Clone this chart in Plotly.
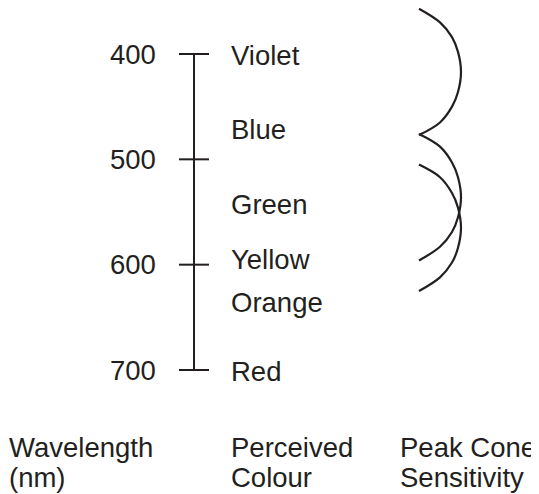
import plotly.graph_objects as go

# ---- data ----
wavelength_ticks = [400, 500, 600, 700]
tick_labels = ["400", "500", "600", "700"]

colour_names = ["Violet", "Blue", "Green", "Yellow", "Orange", "Red"]
colour_wavelengths = [401, 472, 543, 595, 636, 701]

# Peak cone sensitivity curves (wavelength, horizontal extent)
s_cone_wl = [357, 370, 384, 398, 417, 436, 450, 465, 477]
s_cone_x = [419, 440, 452, 458, 461, 458, 452, 440, 419]
m_cone_wl = [476, 488, 503, 517, 536, 555, 569, 583, 596]
m_cone_x = [419, 440, 452, 458, 461, 458, 452, 440, 419]
l_cone_wl = [505, 517, 532, 546, 565, 584, 598, 612, 625]
l_cone_x = [419, 440, 452, 458, 461, 458, 452, 440, 419]

column_titles = [["Wavelength", "(nm)"], ["Perceived", "Colour"], ["Peak Cone", "Sensitivity"]]

# ---- style ----
INK = "#231f20"
FONT = dict(family="Liberation Sans, Arial, Helvetica, sans-serif", size=27.5, color=INK)
AXIS_X = 194
TICK_L, TICK_R = 179, 209

OFF = 8  # page body margin
W, H = 539 - OFF, 494 - OFF

fig = go.Figure()

# main scale line
fig.add_trace(go.Scatter(x=[AXIS_X, AXIS_X], y=[min(wavelength_ticks), max(wavelength_ticks)],
                         mode="lines", line=dict(color=INK, width=2), hoverinfo="skip"))
# tick marks
for w in wavelength_ticks:
    fig.add_trace(go.Scatter(x=[TICK_L, TICK_R], y=[w, w], mode="lines",
                             line=dict(color=INK, width=2), hoverinfo="skip"))

# cone curves
for xs, ys in [(s_cone_x, s_cone_wl), (m_cone_x, m_cone_wl), (l_cone_x, l_cone_wl)]:
    fig.add_trace(go.Scatter(x=xs, y=ys, mode="lines", cliponaxis=False,
                             line=dict(color=INK, width=2.2, shape="spline", smoothing=1.0),
                             hoverinfo="skip"))

annotations = []
for w, lab in zip(wavelength_ticks, tick_labels):
    annotations.append(dict(x=158, y=w, xref="x", yref="y", text=lab, showarrow=False,
                            xanchor="right", yanchor="middle", font=FONT))
for w, lab in zip(colour_wavelengths, colour_names):
    annotations.append(dict(x=229, y=w, xref="x", yref="y", text=lab, showarrow=False,
                            xanchor="left", yanchor="middle", font=FONT))

col_px = [7, 229, 398]
line_px = [447, 477]
for cx, lines in zip(col_px, column_titles):
    for py, txt in zip(line_px, lines):
        annotations.append(dict(x=(cx - OFF) / W, y=1 - (py - OFF) / H, xref="paper", yref="paper",
                                text=txt, showarrow=False, xanchor="left", yanchor="middle",
                                font=FONT))

px_per_nm = 316 / 300.0
y_top = 400 + (OFF - 54) / px_per_nm
y_bot = 400 + (494 - 54) / px_per_nm

fig.update_layout(
    width=W, height=H,
    margin=dict(l=0, r=0, t=0, b=0),
    paper_bgcolor="white", plot_bgcolor="white",
    showlegend=False,
    xaxis=dict(range=[OFF, 539], visible=False, fixedrange=True),
    yaxis=dict(range=[y_bot, y_top], visible=False, fixedrange=True),
    annotations=annotations,
)

fig.write_html("out.html")
